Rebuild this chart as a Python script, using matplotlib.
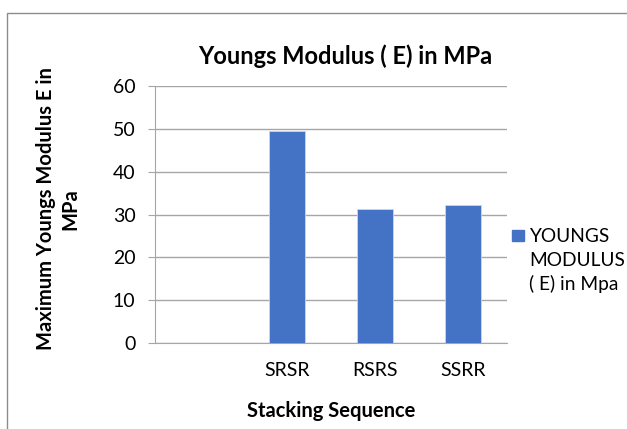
import numpy as np
import matplotlib
matplotlib.use("Agg")
import matplotlib.pyplot as plt
from matplotlib.patches import Rectangle

categories = ["", "SRSR", "RSRS", "SSRR"]
values = [0, 49.4, 31.2, 32.2]
yticks = [0, 10, 20, 30, 40, 50, 60]
legend_lines = ["YOUNGS", "MODULUS", "( E) in Mpa"]

plt.rcParams['font.family'] = ['Lato', 'DejaVu Sans']

W, H = 627, 429
fig = plt.figure(figsize=(W / 100, H / 100), dpi=100)
ax = fig.add_axes([155 / W, 1 - 343 / H, 352 / W, 257 / H])

# outer chart frame (cut off at right/bottom in the reference)
fig.patches.append(Rectangle((7 / W, -0.1), 1.2, 1 - 13 / H + 0.1,
                             transform=fig.transFigure, fill=False,
                             edgecolor='#8c8c8c', linewidth=1.0))

bar_color = '#4472c4'
x = np.arange(len(categories))
ax.bar(x[1:], values[1:], width=0.4, color=bar_color, zorder=3,
       edgecolor='#c9d6ee', linewidth=0.6)

ax.set_xlim(-0.5, len(categories) - 0.5)
ax.set_ylim(0, 60)
ax.set_yticks(yticks)
ax.set_xticks(x)
ax.set_xticklabels(categories)
ax.yaxis.grid(True, color='#a6a6a6', linewidth=1.0, zorder=0)

for s in ['top', 'right']:
    ax.spines[s].set_visible(False)
ax.spines['left'].set_color('#a6a6a6')
ax.spines['bottom'].set_color('#a6a6a6')
ax.tick_params(axis='y', length=5, color='#a6a6a6', labelsize=14, pad=9)
ax.tick_params(axis='x', length=0, labelsize=14, pad=14)

fig.text(345 / W, 1 - 56 / H, "Youngs Modulus ( E) in MPa", fontsize=17,
         fontweight='bold', ha='center', va='center')
fig.text(331 / W, 1 - 411 / H, "Stacking Sequence", fontsize=14.5,
         fontweight='bold', ha='center', va='center')
fig.text(58 / W, 1 - 209 / H, "Maximum Youngs Modulus E in\nMPa", fontsize=14.5,
         fontweight='bold', ha='center', va='center', rotation=90,
         multialignment='center', linespacing=1.25)

# legend: square next to the first line of a wrapped label
fig.patches.append(Rectangle((512 / W, 1 - 241 / H), 12 / W, 11 / H,
                             transform=fig.transFigure, color=bar_color))
for i, line in enumerate(legend_lines):
    fig.text(529 / W, 1 - (237 + 23.5 * i) / H, line, fontsize=13.8,
             ha='left', va='center')

fig.savefig("out.png", dpi=100)
